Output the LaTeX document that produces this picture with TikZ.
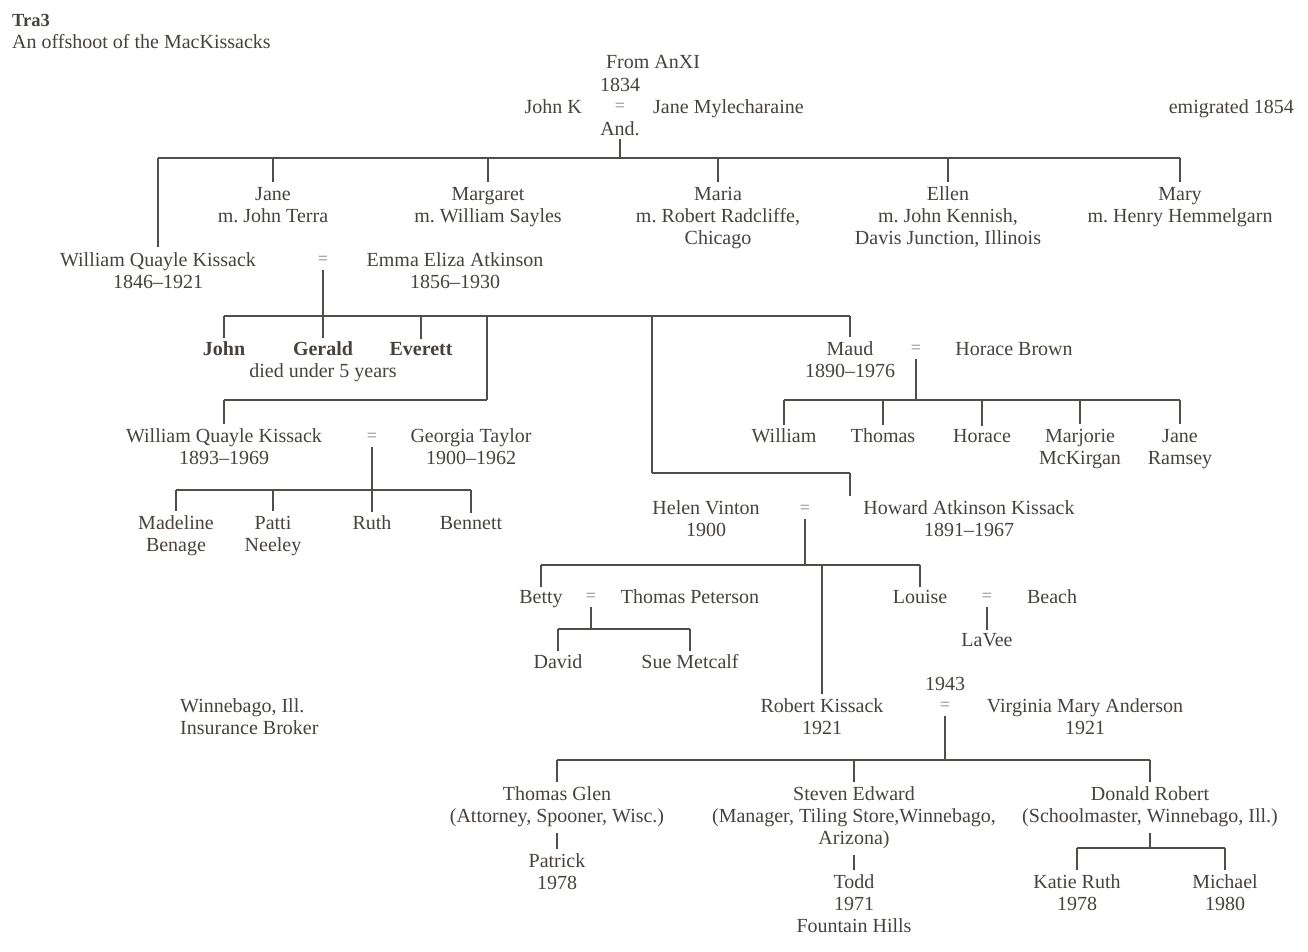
\documentclass[tikz,border=0pt]{standalone}
\usepackage{fontspec}
\setmainfont{Liberation Serif}
\frenchspacing
\definecolor{ink}{HTML}{47423E}
\definecolor{linec}{HTML}{524D49}
\definecolor{eqc}{HTML}{8A8580}
\newcommand{\mlc}[1]{\begin{tabular}[t]{@{}c@{}}#1\end{tabular}}
\newcommand{\mll}[1]{\begin{tabular}[t]{@{}l@{}}#1\end{tabular}}
\begin{document}
\begin{tikzpicture}[x=1pt,y=-1pt,
  every node/.style={inner sep=0pt, text=ink, font=\fontsize{20}{22}\selectfont\frenchspacing, anchor=base},
  bold/.style={font=\bfseries\fontsize{20}{22}\selectfont},
  bar/.style={draw=linec, line width=2.4pt},
  tick/.style={draw=linec, line width=1.5pt},
  eqs/.style={text=eqc, font=\fontsize{18}{20}\selectfont, anchor=center}]
\useasboundingbox[fill=white] (0,0) rectangle (1308,951);

% title
\node[anchor=base west, font=\bfseries\fontsize{18.5}{20}\selectfont] (title) at (12,26) {Tra3};
\node[anchor=base west] (sub) at (12,48) {An offshoot of the MacKissacks};

% generation 1
\node (from) at (653,68) {From AnXI};
\node (yr1834) at (620,91) {1834};
\node[anchor=base east] (johnk) at (582,113) {John K};
\node[eqs] (eq1) at (620,107) {=};
\node[anchor=base west] (janem) at (653,113) {Jane Mylecharaine};
\node (and) at (620,135) {And.};
\node[anchor=base east] (emig) at (1294,113) {emigrated 1854};

\coordinate (b1L) at (158,158);
\coordinate (b1R) at (1180,158);
\draw[bar] (b1L) -- (b1R);
\draw[tick] ([yshift=-4pt]and.south) -- (and.south |- b1L);

\node (jane) at (273,200) {\mlc{Jane\\m. John Terra}};
\node (margaret) at (488,200) {\mlc{Margaret\\m. William Sayles}};
\node (maria) at (718,200) {\mlc{Maria\\m. Robert Radcliffe,\\Chicago}};
\node (ellen) at (948,200) {\mlc{Ellen\\m. John Kennish,\\Davis Junction, Illinois}};
\node (mary) at (1180,200) {\mlc{Mary\\m. Henry Hemmelgarn}};
\foreach \n in {jane,margaret,maria,ellen,mary}
  \draw[tick] (\n.north |- b1L) -- ([yshift=2pt]\n.north);

% William Quayle Kissack = Emma
\node (wqk1) at (158,266) {\mlc{William Quayle Kissack\\1846–1921}};
\node[eqs] (eq2) at (323,260) {=};
\node (emma) at (455,266) {\mlc{Emma Eliza Atkinson\\1856–1930}};
\draw[tick] (b1L) -- ([yshift=3pt]wqk1.north);

\coordinate (b2L) at (224,316);
\coordinate (b2R) at (850,316);
\coordinate (b2c) at (487,316);
\coordinate (b2d) at (652,316);
\draw[bar] (b2L) -- (b2R);
\draw[tick] ([yshift=-10pt]eq2.center) -- (eq2.center |- b2L);

\node[bold] (john) at (224,355) {John};
\node[bold] (gerald) at (323,355) {Gerald};
\node[bold] (everett) at (421,355) {Everett};
\node (died) at (323,377) {died under 5 years};
\foreach \n in {john,gerald,everett}
  \draw[tick] (\n.north |- b2L) -- ([yshift=3pt]\n.north);

% William Quayle Kissack (2)
\coordinate (b3R) at (487,400);
\coordinate (b3L) at (224,400);
\draw[tick] (b2c) -- (b3R);
\draw[bar] (b3R) -- (b3L);
\node (wqk2) at (224,442) {\mlc{William Quayle Kissack\\1893–1969}};
\node[eqs] (eq3) at (372,437) {=};
\node (georgia) at (471,442) {\mlc{Georgia Taylor\\1900–1962}};
\draw[tick] (b3L) -- ([yshift=2pt]wqk2.north);

\coordinate (b4L) at (176,490);
\coordinate (b4R) at (471,490);
\draw[bar] (b4L) -- (b4R);
\draw[tick] ([yshift=-10pt]eq3.center) -- (eq3.center |- b4L);
\node (madeline) at (176,529) {\mlc{Madeline\\Benage}};
\node (patti) at (273,529) {\mlc{Patti\\Neeley}};
\node (ruth) at (372,529) {Ruth};
\node (bennett) at (471,529) {Bennett};
\draw[tick] (madeline.north |- b4L) -- ([yshift=2pt]madeline.north);
\draw[tick] (patti.north |- b4L) -- ([yshift=2pt]patti.north);
\draw[tick] (ruth.north |- b4L) -- ([yshift=3pt]ruth.north);
\draw[tick] (bennett.north |- b4L) -- ([yshift=3pt]bennett.north);

% Maud = Horace Brown
\node (maud) at (850,355) {\mlc{Maud\\1890–1976}};
\node[eqs] (eq4) at (916,349) {=};
\node (horaceb) at (1014,355) {Horace Brown};
\draw[tick] (b2R) -- ([yshift=2pt]maud.north);
\coordinate (b6L) at (784,400);
\coordinate (b6R) at (1180,400);
\draw[bar] (b6L) -- (b6R);
\draw[tick] ([yshift=-10pt]eq4.center) -- (eq4.center |- b6L);
\node (william) at (784,442) {William};
\node (thomas) at (883,442) {Thomas};
\node (horace) at (982,442) {Horace};
\node (marjorie) at (1080,442) {\mlc{Marjorie\\McKirgan}};
\node (janer) at (1180,442) {\mlc{Jane\\Ramsey}};
\foreach \n in {william,thomas,horace}
  \draw[tick] (\n.north |- b6L) -- ([yshift=3pt]\n.north);
\foreach \n in {marjorie,janer}
  \draw[tick] (\n.north |- b6L) -- ([yshift=2pt]\n.north);

% Helen Vinton = Howard Atkinson Kissack
\coordinate (b5L) at (652,473);
\coordinate (b5R) at (850,473);
\draw[tick] (b2d) -- (b5L);
\draw[bar] (b5L) -- (b5R);
\node (helen) at (706,514) {\mlc{Helen Vinton\\1900}};
\node[eqs] (eq5) at (805,509) {=};
\node (howard) at (969,514) {\mlc{Howard Atkinson Kissack\\1891–1967}};
\draw[tick] (b5R) -- ([yshift=2pt]howard.north -| b5R);

\coordinate (b7L) at (541,565);
\coordinate (b7R) at (920,565);
\draw[bar] (b7L) -- (b7R);
\draw[tick] ([yshift=-10pt]eq5.center) -- (eq5.center |- b7L);

% Betty = Thomas Peterson
\node (betty) at (541,603) {Betty};
\node[eqs] (eq6) at (591,597) {=};
\node (thomasp) at (690,603) {Thomas Peterson};
\draw[tick] (b7L) -- ([yshift=3pt]betty.north);
\coordinate (b8L) at (558,629);
\coordinate (b8R) at (690,629);
\draw[bar] (b8L) -- (b8R);
\draw[tick] ([yshift=-10pt]eq6.center) -- (eq6.center |- b8L);
\node (david) at (558,668) {David};
\node (sue) at (690,668) {Sue Metcalf};
\foreach \n in {david,sue}
  \draw[tick] (\n.north |- b8L) -- ([yshift=3pt]\n.north);

% Louise = Beach
\node (louise) at (920,603) {Louise};
\node[eqs] (eq7) at (987,597) {=};
\node (beach) at (1052,603) {Beach};
\draw[tick] (b7R) -- ([yshift=3pt]louise.north);
\node (lavee) at (987,646) {LaVee};
\draw[tick] ([yshift=-10pt]eq7.center) -- ([yshift=3pt]lavee.north);

% Winnebago note
\node[anchor=base west] (winn) at (180,712) {\mll{Winnebago, Ill.\\Insurance Broker}};

% Robert Kissack = Virginia Mary Anderson
\node (robert) at (822,712) {\mlc{Robert Kissack\\1921}};
\node (yr1943) at (945,690) {1943};
\node[eqs] (eq8) at (945,706) {=};
\node (virginia) at (1085,712) {\mlc{Virginia Mary Anderson\\1921}};
\draw[tick] (robert.north |- b7L) -- ([yshift=2pt]robert.north);

\coordinate (b9L) at (557,760);
\coordinate (b9R) at (1150,760);
\draw[bar] (b9L) -- (b9R);
\draw[tick] ([yshift=-10pt]eq8.center) -- (eq8.center |- b9L);

\node (tglen) at (557,800) {\mlc{Thomas Glen\\(Attorney, Spooner, Wisc.)}};
\node (steven) at (854,800) {\mlc{Steven Edward\\(Manager, Tiling Store,Winnebago,\\Arizona)}};
\node (donald) at (1150,800) {\mlc{Donald Robert\\(Schoolmaster, Winnebago, Ill.)}};
\foreach \n in {tglen,steven,donald}
  \draw[tick] (\n.north |- b9L) -- ([yshift=2pt]\n.north);

\node (patrick) at (557,867) {\mlc{Patrick\\1978}};
\draw[tick] ([yshift=-4pt]tglen.south) -- ([yshift=2pt]patrick.north);
\node (todd) at (854,888) {\mlc{Todd\\1971\\Fountain Hills}};
\draw[tick] ([yshift=-4pt]steven.south) -- ([yshift=2pt]todd.north);

\coordinate (b10L) at (1077,848);
\coordinate (b10R) at (1225,848);
\draw[tick] ([yshift=-4pt]donald.south) -- (donald.south |- b10L);
\draw[bar] (b10L) -- (b10R);
\node (katie) at (1077,888) {\mlc{Katie Ruth\\1978}};
\node (michael) at (1225,888) {\mlc{Michael\\1980}};
\foreach \n in {katie,michael}
  \draw[tick] (\n.north |- b10L) -- ([yshift=2pt]\n.north);
\end{tikzpicture}
\end{document}
